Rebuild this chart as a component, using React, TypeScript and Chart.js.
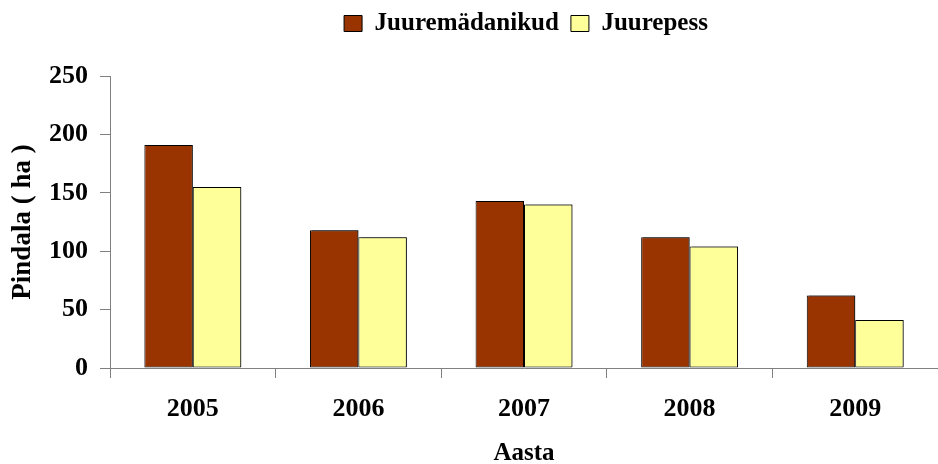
import React, { useEffect, useRef } from 'react';
import { Chart, registerables } from 'chart.js';

Chart.register(...registerables);

// ---- data ----
const years = ['2005', '2006', '2007', '2008', '2009'];
const juuremadanikud = [191, 118, 143, 112, 62];
const juurepess = [155, 112, 140, 104, 41];
const seriesNames = ['Juuremädanikud', 'Juurepess'];
const yTitle = 'Pindala ( ha )';
const xTitle = 'Aasta';
const yMin = 0;
const yMax = 250;
const yStep = 50;

const FONT = 'Liberation Serif, Times New Roman, serif';
const AXIS_GRAY = '#808080';
const LEG_DX = 57;
const LEG_DY = -30;

const legendShift = {
  id: 'legendShift',
  afterLayout(chart: any) {
    const lg = chart.legend;
    if (!lg) return;
    lg.left += LEG_DX;
    lg.right += LEG_DX;
    lg.top += LEG_DY;
    lg.bottom += LEG_DY;
  },
};

const barShadow = {
  id: 'barShadow',
  beforeDatasetsDraw(chart: any) {
    const ctx = chart.ctx;
    ctx.save();
    ctx.shadowColor = 'rgba(0,0,0,0.45)';
    ctx.shadowOffsetX = 2;
    ctx.shadowOffsetY = -1;
    ctx.shadowBlur = 0;
  },
  afterDatasetsDraw(chart: any) {
    chart.ctx.restore();
  },
};

export default function App() {
  const ref = useRef<HTMLCanvasElement | null>(null);

  useEffect(() => {
    if (!ref.current) return;
    const chart = new Chart(ref.current, {
      type: 'bar',
      data: {
        labels: years,
        datasets: [
          {
            label: seriesNames[0],
            data: juuremadanikud,
            backgroundColor: '#993300',
            borderColor: '#000000',
            borderWidth: 1,
            borderSkipped: false,
          },
          {
            label: seriesNames[1],
            data: juurepess,
            backgroundColor: '#FFFF99',
            borderColor: '#000000',
            borderWidth: 1,
            borderSkipped: false,
          },
        ],
      },
      options: {
        responsive: false,
        animation: false,
        devicePixelRatio: 1,
        datasets: {
          bar: { categoryPercentage: 0.585, barPercentage: 1 },
        },
        layout: { padding: { top: 29, right: 0, left: 0, bottom: 0 } },
        plugins: {
          tooltip: { enabled: false },
          legend: {
            display: true,
            position: 'top',
            labels: {
              boxWidth: 18,
              boxHeight: 16,
              padding: 12,
              color: '#000',
              font: { family: FONT, size: 25, weight: 'bold' },
            },
          },
        },
        scales: {
          x: {
            offset: true,
            grid: {
              offset: true,
              drawOnChartArea: false,
              drawTicks: true,
              tickLength: 10,
              color: AXIS_GRAY,
            },
            border: { display: true, color: AXIS_GRAY, width: 1 },
            ticks: {
              color: '#000',
              padding: 16,
              font: { family: FONT, size: 26, weight: 'bold' },
            },
            title: {
              display: true,
              text: xTitle,
              color: '#000',
              font: { family: FONT, size: 25, weight: 'bold', lineHeight: 1 },
              padding: { top: 0, bottom: -2 },
            },
            afterFit(scale: any) {
              scale.height = 96;
            },
          },
          y: {
            min: yMin,
            max: yMax,
            grid: {
              drawOnChartArea: false,
              drawTicks: true,
              tickLength: 10,
              color: AXIS_GRAY,
            },
            border: { display: true, color: AXIS_GRAY, width: 1 },
            ticks: {
              stepSize: yStep,
              color: '#000',
              padding: 12,
              font: { family: FONT, size: 26, weight: 'bold' },
            },
            title: {
              display: true,
              text: yTitle,
              color: '#000',
              font: { family: FONT, size: 27, weight: 'bold' },
              padding: { top: 7, bottom: 0 },
            },
            afterFit(scale: any) {
              scale.width = 110;
            },
          },
        },
      },
      plugins: [legendShift, barShadow],
    });
    return () => chart.destroy();
  }, []);

  return (
    <div style={{ position: 'absolute', left: 0, top: 0, width: 938, height: 464, background: '#fff' }}>
      <canvas ref={ref} width={938} height={464} style={{ display: 'block' }} />
    </div>
  );
}
